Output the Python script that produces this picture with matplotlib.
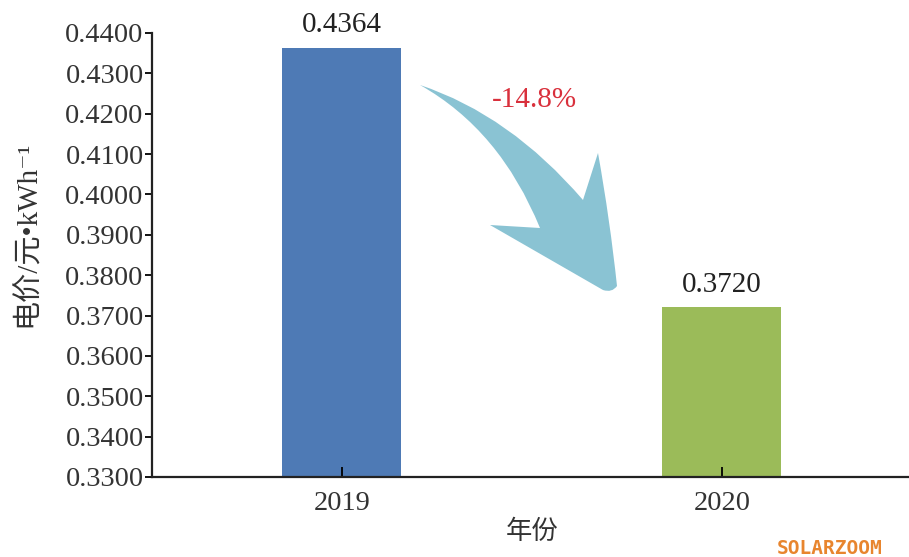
import matplotlib
matplotlib.use('Agg')
import matplotlib.pyplot as plt
from matplotlib.patches import PathPatch
from matplotlib.path import Path

years = ['2019', '2020']
prices = [0.4364, 0.3720]
labels = ['0.4364', '0.3720']
change = '-14.8%'
colors = ['#4e7ab5', '#9bbb59']

plt.rcParams['font.family'] = ['Liberation Serif', 'Noto Sans CJK SC', 'DejaVu Serif']

W, H = 909, 557
fig = plt.figure(figsize=(W / 100, H / 100), dpi=100)
ax = fig.add_axes([152 / W, 1 - 477 / H, 1 - 152 / W + 0.003, (477 - 33) / H])

x = list(range(len(years)))
ax.bar(x, prices, width=0.313, color=colors)
for xi, v, t in zip(x, prices, labels):
    ax.text(xi, v + 0.0024, t, ha='center', va='bottom', fontsize=21, color='#222222')

ax.set_xlim(-0.5, 1.5)
ax.set_ylim(0.33, 0.44)
ax.set_yticks([0.33 + i * 0.01 for i in range(12)])
ax.set_yticklabels(['%.4f' % (0.33 + i * 0.01) for i in range(12)])
ax.set_xticks(x)
ax.set_xticklabels(years)
ax.tick_params(axis='y', direction='out', length=5, width=1.3, labelsize=20.5, labelcolor='#333333', pad=1)
ax.tick_params(axis='x', direction='in', length=7, width=1.3, labelsize=20.5, labelcolor='#333333', pad=10)
for s in ['top', 'right']:
    ax.spines[s].set_visible(False)
for s in ['left', 'bottom']:
    ax.spines[s].set_linewidth(1.6)
    ax.spines[s].set_color('#222222')

ax.set_xlabel('年份', fontsize=19, color='#333333', family=['Noto Sans CJK SC'])
ax.xaxis.set_label_coords((531 - 152) / (W - 152), -(518 - 477) / (477 - 33))
ax.set_ylabel('电价/元•kWh⁻¹', fontsize=21, color='#333333')
ax.yaxis.set_label_coords(-(152 - 41) / (W - 152), (477 - 234) / (477 - 33))

# curved arrow (pixel coords of the picture, y downward)
verts = [(420, 85), (510, 115), (583, 200),
         (598, 153),
         (610, 220), (617, 286),
         (612, 293), (603, 290),
         (490, 225),
         (540, 228),
         (500, 130), (420, 85)]
codes = [Path.MOVETO, Path.CURVE3, Path.CURVE3,
         Path.LINETO,
         Path.CURVE3, Path.CURVE3,
         Path.CURVE3, Path.CURVE3,
         Path.LINETO,
         Path.LINETO,
         Path.CURVE3, Path.CURVE3]
verts = [(px / W, 1 - py / H) for px, py in verts]
fig.patches.append(PathPatch(Path(verts, codes), transform=fig.transFigure,
                             facecolor='#8ac3d3', edgecolor='none'))
fig.text(534 / W, 1 - 100 / H, change, ha='center', va='center', fontsize=21, color='#d9303c')

fig.text(830 / W, 1 - 548 / H, 'SOLARZOOM', ha='center', va='center', fontsize=14,
         color='#e8852e', family=['DejaVu Sans Mono'], weight='bold')

fig.savefig('out.png', dpi=100)
